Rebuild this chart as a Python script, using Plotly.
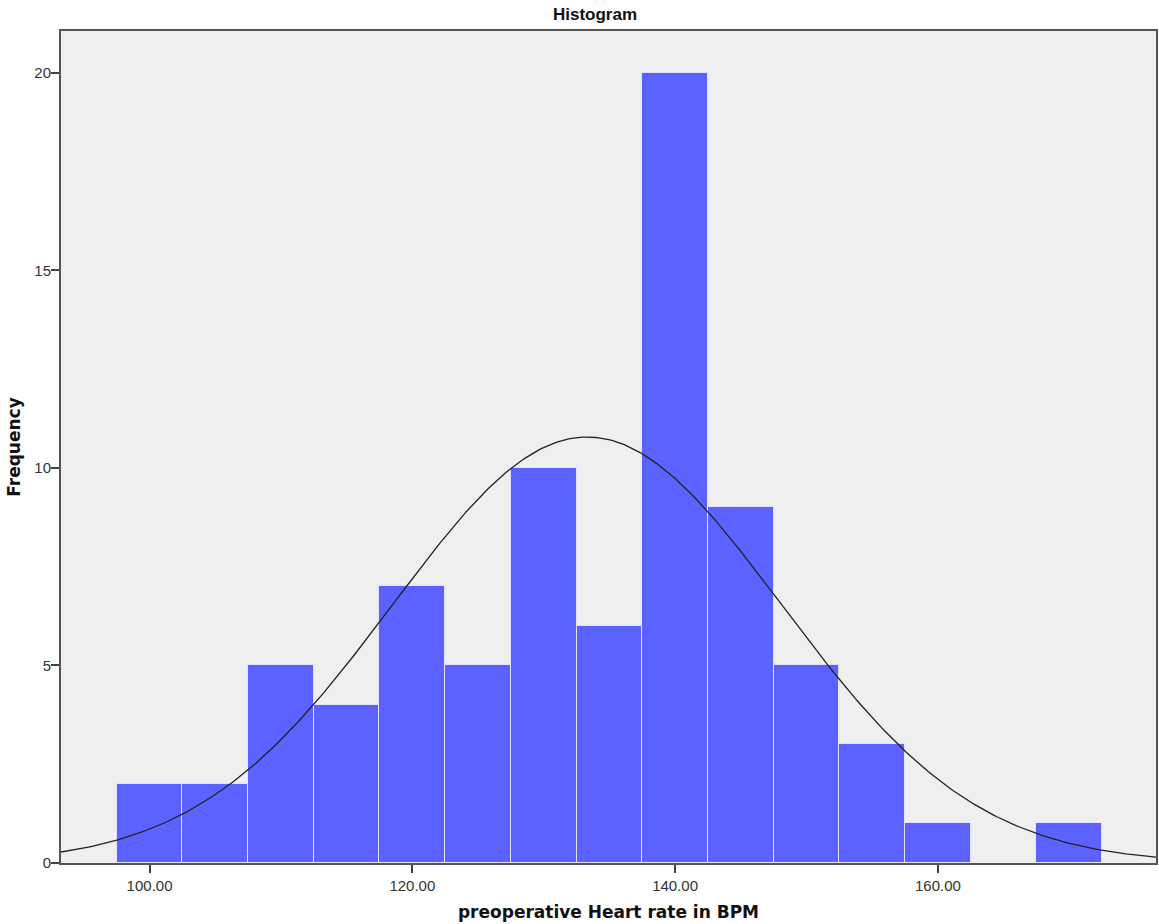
import numpy as np
import plotly.graph_objects as go

# Heart-rate bins (centres, 5 BPM wide) and frequencies
bin_centers = [100, 105, 110, 115, 120, 125, 130, 135, 140, 145, 150, 155, 160, 165, 170]
frequencies = [2, 2, 5, 4, 7, 5, 10, 6, 20, 9, 5, 3, 1, 0, 1]
bin_width = 5

# Fitted normal curve parameters
mean_bpm = 133.3
sd_bpm = 14.8
n_total = sum(frequencies)

x_ticks = [100, 120, 140, 160]
x_tick_text = ["100.00", "120.00", "140.00", "160.00"]
y_ticks = [0, 5, 10, 15, 20]

x_range = [93.26, 176.6]
y_range = [0, 21.06]

xs = np.linspace(x_range[0], x_range[1], 400)
ys = n_total * bin_width / (sd_bpm * np.sqrt(2 * np.pi)) * np.exp(-0.5 * ((xs - mean_bpm) / sd_bpm) ** 2)

# no outline on empty bins
edge_widths = [1 if f > 0 else 0 for f in frequencies]

fig = go.Figure()
fig.add_trace(go.Bar(
    x=bin_centers, y=frequencies, width=bin_width,
    marker=dict(color="rgb(92,98,255)", line=dict(color="rgb(225,226,255)", width=edge_widths)),
    hoverinfo="x+y",
))
fig.add_trace(go.Scatter(
    x=xs, y=ys, mode="lines",
    line=dict(color="#222222", width=1.3),
    hoverinfo="skip",
))

font_family = "Liberation Sans, Arial, sans-serif"
title_family = "DejaVu Sans, Liberation Sans, sans-serif"

fig.update_layout(
    width=1159, height=924,
    margin=dict(l=61, r=1, t=31, b=61),
    paper_bgcolor="white",
    plot_bgcolor="#efefef",
    showlegend=False,
    bargap=0,
    font=dict(family=font_family, color="#222222", size=15),
    title=dict(text="<b>Histogram</b>", x=595 / 1159, xanchor="center", y=0.985, yanchor="middle",
               font=dict(size=17, color="#111111", family=font_family)),
)
fig.update_xaxes(
    range=x_range, tickvals=x_ticks, ticktext=x_tick_text,
    ticks="outside", ticklen=8, tickwidth=2, tickcolor="#444444",
    showgrid=False, zeroline=False,
    showline=True, linecolor="#555555", linewidth=2, mirror=True,
    title=dict(text="<b>preoperative Heart rate in BPM</b>",
               font=dict(size=17, color="#111111", family=title_family), standoff=13),
    tickfont=dict(size=15, color="#333333"),
)
fig.update_yaxes(
    range=y_range, tickvals=y_ticks,
    ticks="outside", ticklen=8, tickwidth=2, tickcolor="#444444",
    showgrid=False, zeroline=False,
    showline=True, linecolor="#555555", linewidth=2, mirror=True,
    ticklabelstandoff=-3,
    title=dict(text="<b>Frequency</b>",
               font=dict(size=17, color="#111111", family=title_family), standoff=9),
    tickfont=dict(size=15, color="#333333"),
)

fig.write_html("out.html")
